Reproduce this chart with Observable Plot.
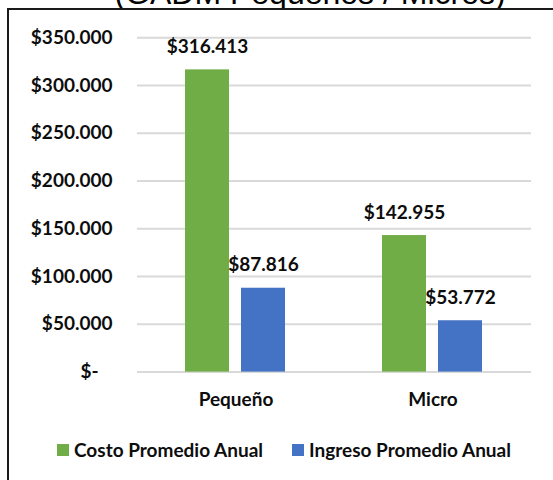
<!DOCTYPE html>
<html>
<head>
<meta charset="utf-8">
<script src="https://cdn.jsdelivr.net/npm/d3@7"></script>
<script src="https://cdn.jsdelivr.net/npm/@observablehq/plot@0.6"></script>
<style>
  html, body { margin: 0; padding: 0; background: white; }
  #wrap { position: relative; width: 553px; height: 480px; overflow: hidden; background: white; }
  #title { position: absolute; top: -23px; left: 310px; transform: translateX(-50%); white-space: nowrap;
           font-family: "Liberation Sans", Arial, sans-serif; font-size: 32px; line-height: 32px; color: #000; }
  #box { position: absolute; left: 7px; top: 8px; width: 600px; height: 500px; background: white;
         border-top: 2px solid #1a1a1a; border-left: 2px solid #1a1a1a; }
  #chart { position: absolute; left: 0; top: 0; }
  .leg { position: absolute; top: 440px; height: 19px; line-height: 19px; display: flex; align-items: center;
         font-family: Lato, sans-serif; font-weight: bold; font-size: 19px; color: #0d0d0d; white-space: nowrap; }
  .sw { width: 12px; height: 12px; margin-right: 5px; display: inline-block; }
</style>
</head>
<body>
<div id="wrap">
  <div id="title">(GADM Pequeños / Micros)</div>
  <div id="box"></div>
  <div id="chart"></div>
  <div id="legend"></div>
</div>
<script>
const categories = ["Pequeño", "Micro"];
const series = ["Costo Promedio Anual", "Ingreso Promedio Anual"];
const costo = [316413, 142955];
const ingreso = [87816, 53772];
const yTicks = [0, 50000, 100000, 150000, 200000, 250000, 300000, 350000];
const colors = ["#70AD47", "#4472C4"];

const rows = [];
categories.forEach((c, i) => {
  rows.push({category: c, series: series[0], value: costo[i]});
  rows.push({category: c, series: series[1], value: ingreso[i]});
});

const locale = d3.formatLocale({decimal: ",", thousands: ".", grouping: [3], currency: ["$", ""]});
const fmt = locale.format("$,.0f");
const tickFmt = d => d === 0 ? "$-\u00a0\u00a0\u00a0" : fmt(d);

const H = 430;
const chart = Plot.plot({
  width: 553,
  height: H,
  marginLeft: 137,
  marginRight: 21.5,
  marginTop: 37.3,
  marginBottom: H - 371.6,
  style: {background: "transparent", fontFamily: "Lato, sans-serif", fontWeight: "bold", fontSize: "19px", color: "#0d0d0d", overflow: "visible"},
  fx: {domain: categories, padding: 0, label: null, axis: "bottom", tickSize: 0, tickPadding: 20},
  x: {domain: series, paddingInner: 0.2105, paddingOuter: 0.8355, axis: null},
  y: {domain: [0, 350000], axis: null},
  color: {domain: series, range: colors},
  marks: [
    Plot.ruleY(yTicks, {stroke: "#d9d9d9", strokeWidth: 2}),
    Plot.axisY(yTicks, {tickSize: 0, tickPadding: 25, tickFormat: tickFmt, label: null, fontSize: 19, fontWeight: "bold", fill: "#0d0d0d"}),
    Plot.barY(rows, {fx: "category", x: "series", y: "value", fill: "series"}),
    Plot.text(rows, {fx: "category", x: "series", y: "value", text: d => fmt(d.value), dy: -23, lineAnchor: "middle", fontSize: 19, fontWeight: "bold", fill: "#0d0d0d"})
  ]
});
document.getElementById("chart").appendChild(chart);

const legend = document.getElementById("legend");
const legLeft = [57, 292];
series.forEach((s, i) => {
  const item = document.createElement("div");
  item.className = "leg";
  item.style.left = legLeft[i] + "px";
  const sw = document.createElement("span");
  sw.className = "sw";
  sw.style.background = colors[i];
  const t = document.createElement("span");
  t.textContent = s;
  item.appendChild(sw);
  item.appendChild(t);
  legend.appendChild(item);
});
</script>
</body>
</html>
